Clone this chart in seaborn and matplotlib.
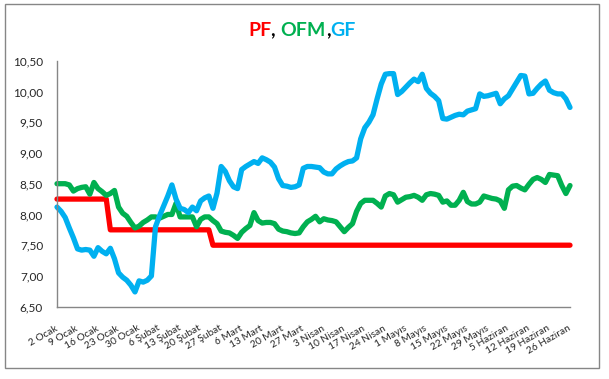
import matplotlib
matplotlib.use("Agg")
import numpy as np
import pandas as pd
import seaborn as sns
import matplotlib.pyplot as plt
from matplotlib.offsetbox import TextArea, HPacker, AnchoredOffsetbox
from matplotlib.patches import Rectangle

# ---------------- data ----------------
week_labels = ["2 Ocak", "9 Ocak", "16 Ocak", "23 Ocak", "30 Ocak", "6 Şubat", "13 Şubat",
               "20 Şubat", "27 Şubat", "6 Mart", "13 Mart", "20 Mart", "27 Mart", "3 Nisan",
               "10 Nisan", "17 Nisan", "24 Nisan", "1 Mayıs", "8 Mayıs", "15 Mayıs",
               "22 Mayıs", "29 Mayıs", "5 Haziran", "12 Haziran", "19 Haziran", "26 Haziran"]

pf = [8.25, 8.25, 8.25, 8.25, 8.25, 8.25, 8.25, 8.25, 8.25, 8.25,
      8.25, 8.25, 8.25, 7.75, 7.75, 7.75, 7.75, 7.75, 7.75, 7.75,
      7.75, 7.75, 7.75, 7.75, 7.75, 7.75, 7.75, 7.75, 7.75, 7.75,
      7.75, 7.75, 7.75, 7.75, 7.75, 7.75, 7.75, 7.75, 7.50, 7.50,
      7.50, 7.50, 7.50, 7.50, 7.50, 7.50, 7.50, 7.50, 7.50, 7.50,
      7.50, 7.50, 7.50, 7.50, 7.50, 7.50, 7.50, 7.50, 7.50, 7.50,
      7.50, 7.50, 7.50, 7.50, 7.50, 7.50, 7.50, 7.50, 7.50, 7.50,
      7.50, 7.50, 7.50, 7.50, 7.50, 7.50, 7.50, 7.50, 7.50, 7.50,
      7.50, 7.50, 7.50, 7.50, 7.50, 7.50, 7.50, 7.50, 7.50, 7.50,
      7.50, 7.50, 7.50, 7.50, 7.50, 7.50, 7.50, 7.50, 7.50, 7.50,
      7.50, 7.50, 7.50, 7.50, 7.50, 7.50, 7.50, 7.50, 7.50, 7.50,
      7.50, 7.50, 7.50, 7.50, 7.50, 7.50, 7.50, 7.50, 7.50, 7.50,
      7.50, 7.50, 7.50, 7.50, 7.50, 7.50]

ofm = [8.50, 8.50, 8.50, 8.48, 8.38, 8.42, 8.44, 8.45, 8.33, 8.52,
       8.42, 8.37, 8.31, 8.34, 8.39, 8.12, 8.02, 7.97, 7.87, 7.78,
       7.81, 7.87, 7.91, 7.96, 7.96, 7.94, 7.97, 8.00, 8.00, 8.18,
       7.96, 7.96, 7.96, 7.96, 7.80, 7.92, 7.96, 7.96, 7.90, 7.85,
       7.73, 7.71, 7.70, 7.66, 7.61, 7.71, 7.77, 7.82, 8.03, 7.90,
       7.86, 7.87, 7.87, 7.85, 7.76, 7.73, 7.72, 7.70, 7.69, 7.70,
       7.80, 7.88, 7.92, 7.97, 7.88, 7.93, 7.91, 7.90, 7.88, 7.80,
       7.72, 7.79, 7.85, 8.05, 8.18, 8.23, 8.23, 8.23, 8.18, 8.12,
       8.30, 8.34, 8.32, 8.20, 8.24, 8.28, 8.29, 8.31, 8.28, 8.23,
       8.32, 8.34, 8.33, 8.31, 8.20, 8.22, 8.15, 8.15, 8.23, 8.36,
       8.21, 8.17, 8.17, 8.20, 8.30, 8.28, 8.26, 8.25, 8.22, 8.10,
       8.40, 8.46, 8.47, 8.43, 8.40, 8.49, 8.57, 8.60, 8.57, 8.52,
       8.65, 8.64, 8.63, 8.47, 8.34, 8.47]

gf = [8.12, 8.05, 7.95, 7.78, 7.62, 7.44, 7.42, 7.43, 7.42, 7.32,
      7.46, 7.40, 7.36, 7.45, 7.28, 7.05, 6.98, 6.93, 6.85, 6.74,
      6.92, 6.90, 6.93, 7.00, 7.80, 7.98, 8.14, 8.30, 8.48, 8.25,
      8.10, 8.08, 8.03, 8.12, 8.06, 8.22, 8.27, 8.30, 8.10, 8.35,
      8.78, 8.70, 8.55, 8.45, 8.42, 8.73, 8.78, 8.82, 8.86, 8.83,
      8.92, 8.89, 8.85, 8.77, 8.58, 8.47, 8.46, 8.44, 8.45, 8.48,
      8.75, 8.78, 8.78, 8.77, 8.76, 8.69, 8.66, 8.66, 8.74, 8.79,
      8.83, 8.86, 8.87, 8.92, 9.23, 9.41, 9.50, 9.62, 9.88, 10.12,
      10.28, 10.29, 10.29, 9.95, 10.00, 10.07, 10.14, 10.20, 10.16, 10.28,
      10.05, 9.97, 9.92, 9.85, 9.56, 9.55, 9.58, 9.61, 9.63, 9.62,
      9.68, 9.70, 9.72, 9.96, 9.92, 9.93, 9.95, 9.97, 9.80, 9.88,
      9.93, 10.04, 10.15, 10.26, 10.25, 9.96, 9.97, 10.05, 10.12, 10.17,
      10.02, 9.98, 9.96, 9.96, 9.88, 9.74]

series_names = ["PF", "OFM", "GF"]
series_colors = ["#FF0000", "#00B050", "#00B0F0"]

# ---------------- frame ----------------
n = len(gf)
df = pd.DataFrame({
    "idx": list(range(n)) * 3,
    "val": pf + ofm + gf,
    "series": ["PF"] * n + ["OFM"] * n + ["GF"] * n,
})

sns.set_style("white")
plt.rcParams['font.family'] = ['Lato', 'DejaVu Sans']

W, H = 609, 379
fig = plt.figure(figsize=(W / 100, H / 100), dpi=100)
x0, x1, ytop, ybot = 57, 570, 60.7, 306.7
ax = fig.add_axes([x0 / W, 1 - ybot / H, (x1 - x0) / W, (ybot - ytop) / H])

sns.lineplot(data=df, x="idx", y="val", hue="series", hue_order=series_names,
             palette=dict(zip(series_names, series_colors)), linewidth=3.8,
             legend=False, ax=ax, estimator=None)
for ln in ax.lines:
    ln.set_solid_capstyle("round")
    ln.set_solid_joinstyle("round")
    ln.set_clip_on(False)

ax.set_xlim(0, n - 1)
ax.set_ylim(6.5, 10.5)
yt = np.arange(6.5, 10.51, 0.5)
ax.set_yticks(yt)
ax.set_yticklabels([f"{v:.2f}".replace(".", ",") for v in yt], fontsize=8.5)
ax.set_xticks(range(0, n, 5))
ax.set_xticklabels(week_labels, fontsize=7.3)
plt.setp(ax.get_xticklabels(), rotation=30, ha="right", va="center",
         rotation_mode="anchor")
ax.tick_params(axis="x", length=0, pad=15)
ax.tick_params(axis="y", length=0, pad=10)
ax.set_xlabel("")
ax.set_ylabel("")
for s in ["top", "right"]:
    ax.spines[s].set_visible(False)
for s in ["left", "bottom"]:
    ax.spines[s].set_color("#868686")
    ax.spines[s].set_linewidth(1)
ax.grid(False)

# outer chart border
fig.add_artist(Rectangle((5 / W, 1 - 368 / H), 594 / W, 364 / H, transform=fig.transFigure,
                         fill=False, edgecolor="#868686", linewidth=1))

# multi-coloured title
pieces = [("PF", "#FF0000"), (", ", "black"), ("OFM", "#00B050"), (",", "black"),
          ("GF", "#00B0F0")]
areas = [TextArea(t, textprops=dict(color=c, fontsize=14, fontweight="bold"))
         for t, c in pieces]
box = HPacker(children=areas, align="baseline", pad=0, sep=0)
anch = AnchoredOffsetbox(loc="center", child=box, pad=0, borderpad=0, frameon=False,
                         bbox_to_anchor=(302 / W, 1 - 31 / H),
                         bbox_transform=fig.transFigure)
fig.add_artist(anch)

fig.savefig("out.png", dpi=100, facecolor="white")
